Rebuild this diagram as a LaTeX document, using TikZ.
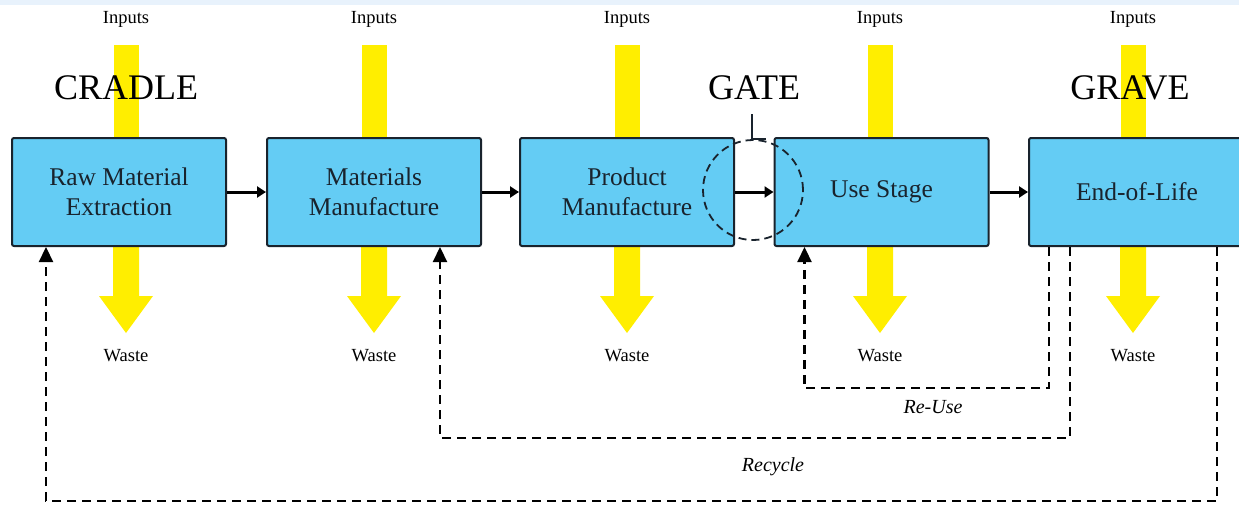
\documentclass[tikz,border=0pt]{standalone}
\usepackage{fontspec}
\setmainfont{Liberation Serif}
\usetikzlibrary{arrows.meta,calc}
\definecolor{boxblue}{RGB}{100,204,244}
\definecolor{boxline}{RGB}{25,35,45}
\definecolor{yel}{RGB}{255,238,0}
\definecolor{band}{RGB}{232,242,252}
\tikzset{
  stage/.style={draw=boxline,line width=2pt,fill=boxblue,rounded corners=2pt,
    minimum width=214pt,minimum height=108pt,align=center,
    font=\fontsize{25.5}{30}\selectfont,text=boxline,inner sep=0pt},
  flow/.style={line width=3pt,-{Triangle[length=9pt,width=11pt]}},
  back/.style={line width=2.2pt,dash pattern=on 9pt off 6pt,-{Triangle[length=15pt,width=14pt]}},
  small/.style={font=\fontsize{18.5}{21}\selectfont,inner sep=0pt},
  big/.style={font=\fontsize{36}{42}\selectfont,inner sep=0pt},
  lbl/.style={font=\fontsize{20}{23}\selectfont\itshape,inner sep=0pt},
}
\begin{document}
\begin{tikzpicture}[x=1pt,y=-1pt]
\useasboundingbox (0,0) rectangle (1239,506);
\fill[white] (0,0) rectangle (1239,506);
\fill[band] (0,0) rectangle (1239,5);
% yellow input bars and waste arrows
\foreach \cx/\n in {126/1,374/2,627/3,880/4,1133/5}{
  \fill[yel] (\cx-12.5,45) rectangle (\cx+12.5,150);
  \fill[yel] (\cx-13,230) -- (\cx-13,296) -- (\cx-27,296) -- (\cx,333) -- (\cx+27,296) -- (\cx+13,296) -- (\cx+13,230) -- cycle;
  \node[small] (in\n) at (\cx,19) {Inputs};
  \node[small] (wa\n) at (\cx,356) {Waste};
}
\node[big] (cradle) at (126,88) {CRADLE};
\node[big] (gate) at (754,88) {GATE};
\node[big] (grave) at (1130,88) {GRAVE};
% stages
\node[stage] (b1) at (119,192) {Raw Material\\Extraction};
\node[stage] (b2) at (374,192) {Materials\\Manufacture};
\node[stage] (b3) at (627,192) {Product\\Manufacture};
\node[stage] (b4) at (881.5,192) {Use Stage};
\node[stage,minimum width=216pt] (b5) at (1137,192) {End-of-Life};
% forward flow
\draw[flow] (b1.east) -- (b2.west);
\draw[flow] (b2.east) -- (b3.west);
\draw[flow] (b3.east) -- (b4.west);
\draw[flow] (b4.east) -- (b5.west);
% gate circle
\node[draw=boxline,line width=1.8pt,dash pattern=on 8pt off 5pt,circle,minimum size=100pt,inner sep=0pt] (gc) at (753,190) {};
\draw[boxline,line width=1.6pt] (gc.north) ++(-1,0) -- ++(0,-25);
\draw[boxline,line width=1.6pt] (gc.north) ++(-1,0) -- ++(14,0);
% return loops
\draw[back] ([xshift=21pt]b5.south west) -- ++(0,141) -| ([xshift=31pt]b4.south west);
\draw[back] ([xshift=42pt]b5.south west) -- ++(0,191) -| ([xshift=174pt]b2.south west);
\draw[back] ([xshift=189pt]b5.south west) -- ++(0,254) -| ([xshift=35pt]b1.south west);
\node[lbl] (reuse) at (933,407) {Re-Use};
\node[lbl] (recycle) at (773,467) {Recycle};
\end{tikzpicture}
\end{document}
